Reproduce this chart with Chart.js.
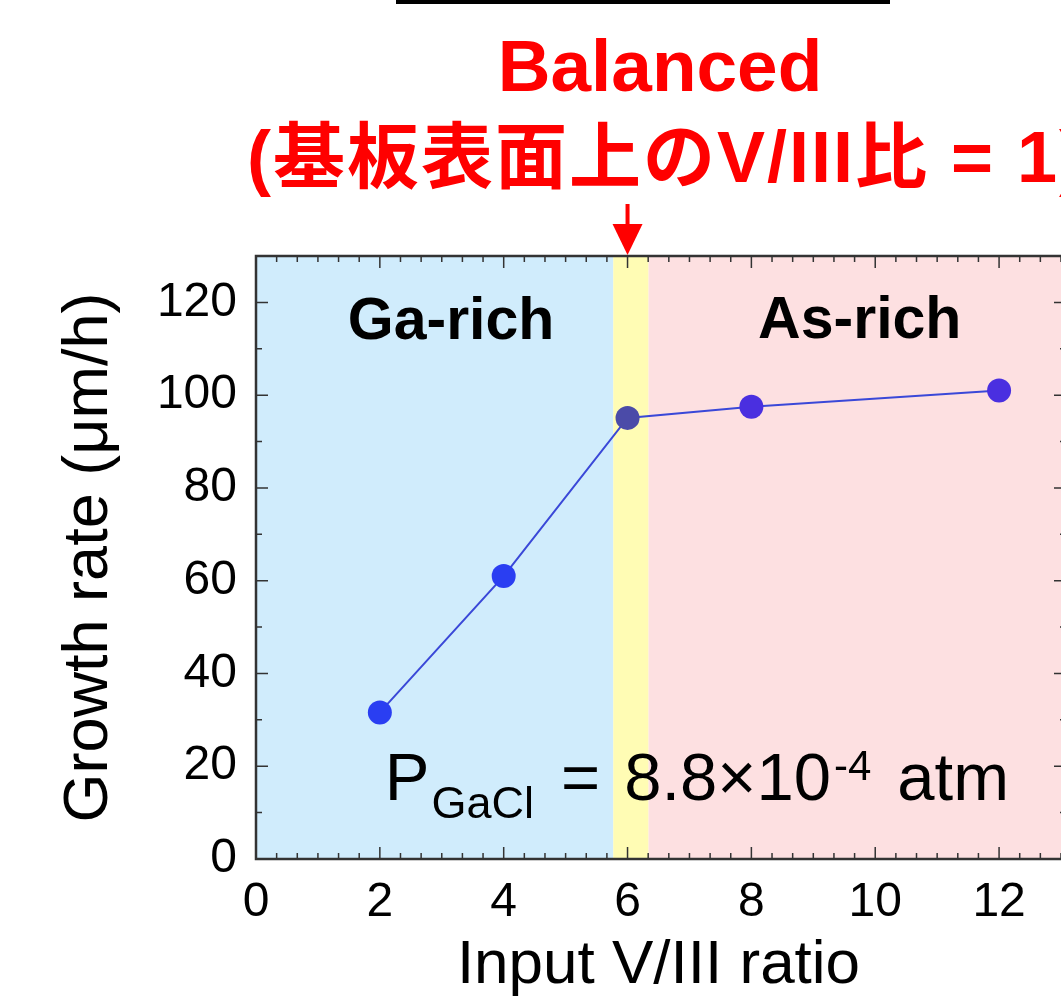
<!DOCTYPE html>
<html>
<head>
    <title>Growth rate vs Input V/III ratio</title>
    <script src="https://cdn.jsdelivr.net/npm/chart.js"></script>
    <style>
        html, body {
            margin: 0;
            padding: 0;
            background: #fff;
            overflow: hidden;
        }
        #chart {
            display: block;
        }
    </style>
</head>
<body>
    <canvas id="chart" width="1061" height="1000"></canvas>

    <script>
        // data
        const ratios = [2, 4, 6, 8, 12];
        const growthRate = [31.6, 61, 95.1, 97.5, 101];
        const xTicks = [0, 2, 4, 6, 8, 10, 12];
        const yTicks = [0, 20, 40, 60, 80, 100, 120];

        // shaded regions along the x axis
        const regionNames = ['Ga-rich', 'Balanced', 'As-rich'];
        const regionStart = [0, 5.77, 6.34];
        const regionEnd = [5.77, 6.34, 13];
        const regionColors = ['#d0ecfc', '#fffcb4', '#fde0e1'];

        const FONT = '"Liberation Sans", Arial, "Noto Sans CJK JP", sans-serif';

        // ticks pointing inward on all four sides, plus the frame
        // (the right edge of the frame is cut off in the original, only its ticks show)
        function drawFrame(chart) {
            const {ctx, chartArea: a, scales: {x, y}} = chart;
            ctx.save();
            ctx.strokeStyle = '#333';
            ctx.lineWidth = 1.5;
            ctx.beginPath();
            for (let i = 0; i <= 39; i++) {
                const px = x.getPixelForValue(i / 3);
                const len = i % 6 === 0 ? 12 : 6;
                ctx.moveTo(px, a.bottom); ctx.lineTo(px, a.bottom - len);
                ctx.moveTo(px, a.top); ctx.lineTo(px, a.top + len);
            }
            for (let v = 0; v <= 130; v += 10) {
                const py = y.getPixelForValue(v);
                const len = v % 20 === 0 ? 12 : 6;
                ctx.moveTo(a.left, py); ctx.lineTo(a.left + len, py);
                ctx.moveTo(a.right + 5, py); ctx.lineTo(a.right + 5 - len, py);
            }
            ctx.stroke();
            ctx.lineWidth = 2.5;
            ctx.beginPath();
            ctx.moveTo(a.right + 5, a.top);
            ctx.lineTo(a.left, a.top);
            ctx.lineTo(a.left, a.bottom);
            ctx.lineTo(a.right + 5, a.bottom);
            ctx.stroke();
            ctx.restore();
        }

        const decorations = {
            id: 'decorations',
            beforeDatasetsDraw(chart) {
                const {ctx, chartArea: a, scales: {x}} = chart;
                ctx.save();
                for (let i = 0; i < regionNames.length; i++) {
                    const x0 = x.getPixelForValue(regionStart[i]);
                    const x1 = x.getPixelForValue(regionEnd[i]);
                    ctx.fillStyle = regionColors[i];
                    ctx.fillRect(x0, a.top, x1 - x0, a.bottom - a.top);
                }
                ctx.restore();
            },
            afterDraw(chart) {
                const {ctx, scales: {x, y}} = chart;
                drawFrame(chart);
                ctx.save();

                // region labels
                ctx.fillStyle = '#000';
                ctx.textAlign = 'center';
                ctx.textBaseline = 'alphabetic';
                ctx.font = 'bold 59px ' + FONT;
                ctx.fillText('Ga-rich', x.getPixelForValue(3.15), y.getPixelForValue(112));
                ctx.fillText('As-rich', x.getPixelForValue(9.75), y.getPixelForValue(112.4));

                // P_GaCl = 8.8x10^-4 atm
                const parts = [
                    {t: 'P', size: 67, dy: 0, gap: 0},
                    {t: 'GaCl', size: 45, dy: 18, gap: 2},
                    {t: '=', size: 67, dy: 0, gap: 27},
                    {t: '8.8\u00d710', size: 67, dy: 0, gap: 24},
                    {t: '-4', size: 42, dy: -20, gap: 3},
                    {t: 'atm', size: 67, dy: 0, gap: 26}
                ];
                ctx.textAlign = 'left';
                let px = x.getPixelForValue(2.08);
                const base = y.getPixelForValue(12.7);
                parts.forEach(p => {
                    px += p.gap;
                    ctx.font = p.size + 'px ' + FONT;
                    ctx.fillText(p.t, px, base + p.dy);
                    px += ctx.measureText(p.t).width;
                });

                // red caption above the plot
                ctx.fillStyle = '#ff0000';
                ctx.textAlign = 'center';
                ctx.font = 'bold 73px ' + FONT;
                ctx.fillText('Balanced', 660, 91);
                ctx.textAlign = 'left';
                ctx.font = 'bold 72px ' + FONT;
                ctx.letterSpacing = '2px';
                ctx.fillText('(基板表面上のV/III比 = 1)', 247, 182);
                ctx.letterSpacing = '0px';

                // arrow pointing at the balanced point
                const ax = x.getPixelForValue(6);
                ctx.fillRect(ax - 2, 204, 4, 26);
                ctx.beginPath();
                ctx.moveTo(ax - 15, 224);
                ctx.lineTo(ax + 15, 224);
                ctx.lineTo(ax, 255);
                ctx.closePath();
                ctx.fill();

                // black bar at the very top
                ctx.fillStyle = '#000';
                ctx.fillRect(396, 0, 494, 4);
                ctx.restore();
            }
        };

        const ctx = document.getElementById('chart').getContext('2d');
        const chart = new Chart(ctx, {
            type: 'line',
            data: {
                datasets: [{
                    data: ratios.map((r, i) => ({x: r, y: growthRate[i]})),
                    borderColor: '#3a48d8',
                    borderWidth: 2,
                    pointRadius: 12,
                    pointBorderWidth: 0,
                    pointBackgroundColor: ['#2a3ef2', '#2a3ef2', '#4b4ba8', '#4a2fe0', '#4a2fe0'],
                    tension: 0,
                    fill: false
                }]
            },
            options: {
                responsive: false,
                animation: false,
                // no extra room for the point radius, the layout is fixed by hand
                layout: {
                    autoPadding: false,
                    padding: {top: 256, right: 0, bottom: 0, left: 0}
                },
                plugins: {legend: {display: false}, tooltip: {enabled: false}},
                scales: {
                    x: {
                        type: 'linear',
                        min: 0,
                        max: 13,
                        afterBuildTicks: s => { s.ticks = xTicks.map(v => ({value: v})); },
                        afterFit: s => { s.height = 141; },
                        grid: {display: false},
                        border: {display: true, color: '#333', width: 2},
                        ticks: {
                            font: {family: FONT, size: 48},
                            color: '#000',
                            padding: 7,
                            autoSkip: false,
                            maxRotation: 0
                        },
                        title: {
                            display: true,
                            text: 'Input V/III ratio',
                            font: {family: FONT, size: 62},
                            color: '#000',
                            padding: {top: 0, bottom: -3}
                        }
                    },
                    y: {
                        min: 0,
                        max: 130,
                        afterBuildTicks: s => { s.ticks = yTicks.map(v => ({value: v})); },
                        afterFit: s => { s.width = 256; },
                        grid: {display: false},
                        border: {display: true, color: '#333', width: 2},
                        ticks: {
                            font: {family: FONT, size: 48},
                            color: '#000',
                            padding: 11
                        },
                        title: {
                            display: true,
                            text: 'Growth rate (\u03bcm/h)',
                            font: {family: FONT, size: 63},
                            color: '#000',
                            padding: {top: 52, bottom: 0}
                        }
                    }
                }
            },
            plugins: [decorations]
        });
    </script>
</body>
</html>
